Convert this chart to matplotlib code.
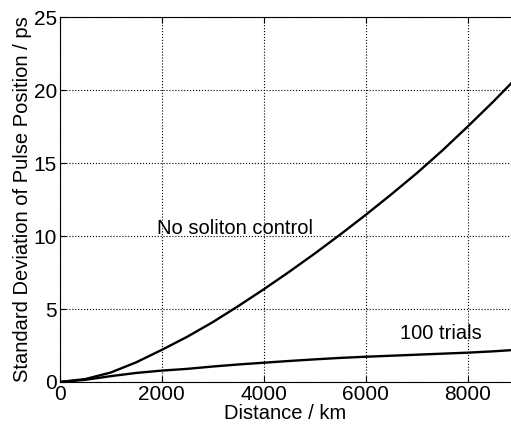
import numpy as np
import matplotlib.pyplot as plt

plt.rcParams['font.family'] = ['Liberation Sans', 'DejaVu Sans']

# distance in km
dist = [0, 500, 1000, 1500, 2000, 2500, 3000, 3500, 4000, 4500, 5000,
        5500, 6000, 6500, 7000, 7500, 8000, 8500, 8850]
# no soliton control
no_ctrl = [0, 0.2, 0.65, 1.35, 2.2, 3.1, 4.1, 5.2, 6.35, 7.55, 8.8,
           10.1, 11.45, 12.85, 14.3, 15.85, 17.5, 19.2, 20.45]
# with control, 100 trials
trials = [0, 0.15, 0.4, 0.62, 0.78, 0.9, 1.06, 1.2, 1.32, 1.44, 1.55,
          1.65, 1.73, 1.8, 1.87, 1.94, 2.01, 2.1, 2.18]

fig = plt.figure(figsize=(5.11, 4.28), dpi=100)
ax = fig.add_axes([0.117, 0.1075, 0.883, 0.8525])

ax.plot(dist, no_ctrl, color='black', lw=1.7)
ax.plot(dist, trials, color='black', lw=1.7)

ax.set_xlim(0, 8850)
ax.set_ylim(0, 25)
ax.set_xticks([0, 2000, 4000, 6000, 8000])
ax.set_yticks([0, 5, 10, 15, 20, 25])
ax.grid(True, color='black', linestyle=':', linewidth=0.8)
ax.tick_params(direction='in', labelsize=15, length=4, top=True, pad=2)
ax.spines['right'].set_visible(False)

ax.text(1900, 10.5, 'No soliton control', fontsize=14.5, va='center')
ax.text(6680, 3.35, '100 trials', fontsize=14.5, va='center')

ax.set_xlabel('Distance / km', fontsize=14.5, labelpad=0)
ax.set_ylabel('Standard Deviation of Pulse Position / ps', fontsize=14.5, labelpad=1)

fig.savefig('out.png', dpi=100)
